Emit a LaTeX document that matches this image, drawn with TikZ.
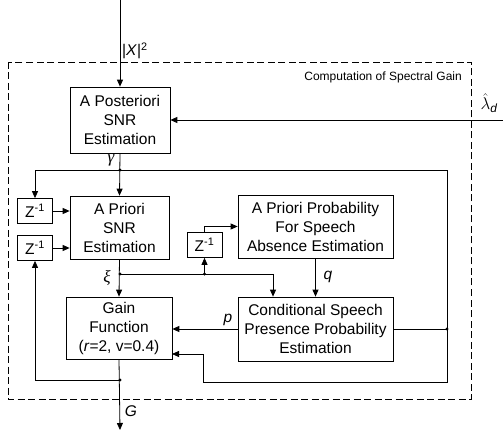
\documentclass[tikz,border=0pt]{standalone}
\usepackage{fix-cm}
\usepackage{fontspec}
\setmainfont{Liberation Sans}
\newfontfamily\grk{Liberation Serif}
\usetikzlibrary{arrows.meta,calc}
\tikzset{
  blk/.style={draw, line width=0.7pt, align=center, inner sep=0pt,
    font=\fontsize{15.5}{19}\selectfont},
  zbox/.style={draw, line width=0.7pt, inner sep=0pt, minimum width=35pt,
    minimum height=25pt, font=\fontsize{15.5}{19}\selectfont},
  conn/.style={line width=0.8pt},
  arr/.style={conn, -{Triangle[length=7pt,width=6pt]}},
  dot/.style={circle, fill, inner sep=0pt, minimum size=3.2pt},
  lbl/.style={inner sep=0pt, font=\fontsize{15.5}{19}\selectfont},
  frame/.style={line width=0.8pt, dash pattern=on 7pt off 3.5pt}
}
\begin{document}
\begin{tikzpicture}[x=1pt,y=-1pt]
\useasboundingbox (0,0) rectangle (503,430);
% frame
\draw[frame] (8,62) rectangle (471,399);
\node[anchor=east, inner sep=0pt, font=\fontsize{12}{14}\selectfont] (title) at (462,77) {Computation of Spectral Gain};
% blocks
\node[blk, minimum width=100pt, minimum height=66pt] (post) at (120,120) {A Posteriori\\SNR\\Estimation};
\node[blk, minimum width=99pt, minimum height=63pt] (prio) at (119.5,227.5) {A Priori\\SNR\\Estimation};
\node[blk, minimum width=155pt, minimum height=63pt] (pabs) at (315.5,226.5) {A Priori Probability\\For Speech\\Absence Estimation};
\node[blk, minimum width=155pt, minimum height=64pt] (cspp) at (315.5,329) {Conditional Speech\\Presence Probability\\Estimation};
\node[blk, minimum width=106pt, minimum height=62pt] (gain) at (119,328) {Gain\\Function\\(\textit{r}=2, v=0.4)};
\node[zbox] (z1) at (35,211) {Z\textsuperscript{-1}};
\node[zbox] (z2) at (35,248) {Z\textsuperscript{-1}};
\node[zbox] (z3) at (204.5,245) {Z\textsuperscript{-1}};
% coordinates
\coordinate (in) at (120,0);
\coordinate (lam) at (503,120);
\coordinate (gj) at (120,170);
\coordinate (gr1) at (447,170);
\coordinate (gr2) at (447,382);
\coordinate (gr3) at (203,382);
\coordinate (gin2) at (172,354);
\coordinate (xj) at (120,274);
\coordinate (xr) at (273,274);
\coordinate (gj2) at (120,380);
\coordinate (out) at (120,430);
% connectors
\draw[arr] (in) -- (post.north);
\draw[arr] (lam) -- (post.east);
\draw[arr] (post.south) -- (prio.north);
\draw[arr] (gj) -| (z1.north);
\draw[conn] (gj) -- (gr1) -- (gr2) -- (gr3);
\draw[arr] (gr3) |- (gin2);
\draw[conn] (cspp.east) -- (cspp.east -| gr1) node[dot] (cj) {};
\draw[arr] (z1.east) -- (z1.east -| prio.west);
\draw[arr] (z2.east) -- (z2.east -| prio.west);
\draw[arr] (prio.south) -- (gain.north);
\draw[conn] (xj) -- (xr);
\draw[arr] (xr) -- (xr |- cspp.north);
\draw[arr] (z3.south |- xj) -- (z3.south);
\draw[arr] (z3.north) |- (pabs.west);
\draw[arr] (pabs.south) -- (cspp.north);
\draw[arr] (cspp.west) -- (cspp.west -| gain.east);
\draw[arr] (gain.south) -- (out);
\draw[arr] (gj2) -| (z2.south);
% junction dots
\node[dot] (d1) at (gj) {};
\node[dot] (d2) at (xj) {};
\node[dot] (d3) at (z3.south |- xj) {};
\node[dot] (d4) at (gj2) {};
% labels
\node[lbl, anchor=west] (lx) at (122,51) {|\textit{X}|\textsuperscript{2}};
\node[lbl, font=\fontsize{17}{19}\selectfont] (lg) at (111,160) {\grk\itshape γ};
\node[lbl, font=\fontsize{17}{19}\selectfont] (lxi) at (107,278) {\grk\itshape ξ};
\node[lbl] (lp) at (228,320) {\textit{p}};
\node[lbl] (lq) at (328,277) {\textit{q}};
\node[lbl] (lG) at (131,411) {\textit{G}};
\node[lbl, font=\fontsize{17}{19}\selectfont] (ll) at (489,103) {$\hat{\lambda}_{\mathit{d}}$};
\end{tikzpicture}
\end{document}
